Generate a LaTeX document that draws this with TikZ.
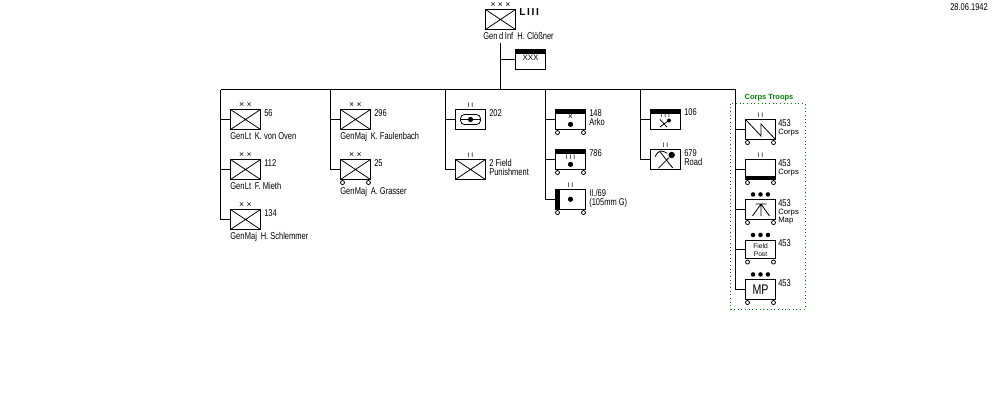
\documentclass[tikz,border=0pt]{standalone}
\usepackage{fontspec}
\setmainfont[FakeStretch=0.76]{Liberation Sans}
\newfontfamily\plainf{Liberation Sans}
\definecolor{troopgreen}{RGB}{0,128,0}
\tikzset{
  x=0.75pt, y=-0.75pt,
  unitbox/.style={draw=black, line width=0.75pt, fill=white, minimum width=22.5pt, minimum height=15pt, inner sep=0pt, outer sep=0pt},
  link/.style={draw=black, line width=0.75pt},
  sym/.style={draw=black, line width=0.6pt},
  lab/.style={font=\fontsize{7.4}{7}\selectfont, inner sep=0pt, anchor=north west, align=left},
  rank/.style={font=\plainf\fontsize{6.5}{6.5}\selectfont, inner sep=0pt, anchor=center},
  bars/.style={font=\plainf\fontsize{5}{5}\selectfont, inner sep=0pt, anchor=center},
  wheel/.style={draw=black, line width=0.6pt, fill=white, circle, minimum size=3pt, inner sep=0pt},
  dotmark/.style={fill=black, circle, minimum size=3.9pt, inner sep=0pt}
}
% unit frame: name, centre x, centre y
\newcommand{\frm}[3]{\node[unitbox] (#1) at (#2,#3) {};}
% infantry cross inside a frame
\newcommand{\crossed}[1]{\draw[sym] (#1.north west) -- (#1.south east) (#1.north east) -- (#1.south west);}
% wheels below a frame
\newcommand{\wheels}[1]{
  \node[wheel] (#1w1) at ([xshift=1.5pt,yshift=-2.3pt]#1.south west) {};
  \node[wheel] (#1w2) at ([xshift=-1.5pt,yshift=-2.3pt]#1.south east) {};}
% three rank dots above a frame
\newcommand{\threedots}[1]{
  \foreach \d in {-5.6,0,5.6} \fill ([xshift=\d pt,yshift=3.8pt]#1.north) circle (1.7pt);}
% heavy band along the top edge of a frame
\newcommand{\topband}[1]{\fill ([yshift=0.4pt]#1.north west) rectangle ([yshift=-3pt]#1.north east);}
% small line text for corps troop labels
\newcommand{\smallline}[1]{{\plainf\fontsize{5.8}{6}\selectfont #1}}
% officer rank prefixes
\newcommand{\gl}{Gen\hspace{0.4pt}Lt\ \,}
\newcommand{\gm}{Gen\hspace{0.4pt}Maj\ \,}
\begin{document}
\begin{tikzpicture}
\useasboundingbox (0,0) rectangle (1000,400);

% stem coordinates on the main bus
\coordinate (bl) at (220.5,89.5);
\coordinate (bm) at (500.5,89.5);
\coordinate (br) at (735.5,89.5);
\coordinate (t2) at (330.5,89.5);
\coordinate (t3) at (445.5,89.5);
\coordinate (t4) at (545.5,89.5);
\coordinate (t5) at (640.5,89.5);
\coordinate (cs) at (500.5,43);

% date stamp
\node[lab] (date) at (950,3) {28.06.1942};

% dotted corps troops frame
\draw[troopgreen, line width=0.75pt, dotted] (730.5,103.5) rectangle (805,309);
\node[font=\plainf\bfseries\fontsize{5.6}{6}\selectfont, text=troopgreen, inner sep=0pt] (ctl) at (769,97.3) {Corps Troops};

% corps headquarters
\frm{hq}{500.5}{19.5}\crossed{hq}
\node[rank] (hqx) at (500.5,5.2) {×\ ×\ ×};
\node[font=\plainf\bfseries\fontsize{7.6}{7.6}\selectfont, inner sep=0pt, anchor=west] (hql) at (519,12.5) {L\,I\,I\,I};
\node[lab, anchor=center] (hqn) at (518.5,36) {Gen\,d\,Inf\ \ H. Clößner};
\frm{ko}{530.5}{59.5}\topband{ko}
\node[font=\plainf\fontsize{6}{6}\selectfont, inner sep=0pt] (kox) at (530.5,57.5) {XXX};
\draw[link] (cs) -- (bm);
\draw[link] (bm |- ko.west) -- (ko.west);
\draw[link] (bl) -- (br);

% first column: infantry divisions
\frm{d56}{245.5}{119.5}\crossed{d56}
\frm{d112}{245.5}{169.5}\crossed{d112}
\frm{d134}{245.5}{219.5}\crossed{d134}
\foreach \n/\yy in {a/105.5,b/155.5,c/205.5} \node[rank] (x1\n) at (245.5,\yy) {×\ ×};
\draw[link] (bl) |- (d134.west);
\draw[link] (bl |- d56.west) -- (d56.west);
\draw[link] (bl |- d112.west) -- (d112.west);
\node[lab] (n56) at (264,109.2) {56};
\node[lab] (n112) at (264,159.2) {112};
\node[lab] (n134) at (264,209.2) {134};
\node[lab] (g56) at (230,132.2) {\gl K. von Oven};
\node[lab] (g112) at (230,182.2) {\gl F. Mieth};
\node[lab] (g134) at (230,232.2) {\gm H. Schlemmer};

% second column
\frm{d296}{355.5}{119.5}\crossed{d296}
\frm{d25}{355.5}{169.5}\crossed{d25}\wheels{d25}
\foreach \n/\yy in {a/105.5,b/155.5} \node[rank] (x2\n) at (355.5,\yy) {×\ ×};
\draw[link] (t2) |- (d25.west);
\draw[link] (t2 |- d296.west) -- (d296.west);
\node[lab] (n296) at (374,109.2) {296};
\node[lab] (n25) at (374,159.2) {25};
\node[lab] (g296) at (340,132.2) {\gm K. Faulenbach};
\node[lab] (g25) at (340,187.5) {\gm A. Grasser};

% third column
\frm{b202}{470.5}{119.5}
\draw[sym, rounded corners=3pt] (460.5,114.5) rectangle (480.5,124.5);
\draw[sym] (460.5,119.5) -- (480.5,119.5);
\node[dotmark] (b202d) at (470.5,119.5) {};
\frm{b2f}{470.5}{169.5}\crossed{b2f}
\foreach \n/\yy in {a/105.5,b/155.5} \node[bars] (x3\n) at (470.5,\yy) {I I};
\draw[link] (t3) |- (b2f.west);
\draw[link] (t3 |- b202.west) -- (b202.west);
\node[lab] (n202) at (489,109.2) {202};
\node[lab] (n2f) at (489,159.2) {2 Field\\Punishment};

% fourth column: artillery
\frm{a148}{570.5}{119.5}\topband{a148}\wheels{a148}
\node[rank] (a148x) at (570.5,117.5) {×};
\node[dotmark] (a148d) at (570.5,124.4) {};
\frm{a786}{570.5}{159.5}\topband{a786}\wheels{a786}
\node[bars] (a786x) at (570.5,157.5) {I I I};
\node[dotmark] (a786d) at (570.5,164.4) {};
\frm{a69}{570.5}{199.5}\wheels{a69}
\fill (a69.north west) rectangle ([xshift=3pt]a69.south west);
\node[bars] (a69x) at (570.5,185.5) {I I};
\node[dotmark] (a69d) at (570.5,199.3) {};
\draw[link] (t4) |- (a69.west);
\draw[link] (t4 |- a148.west) -- (a148.west);
\draw[link] (t4 |- a786.west) -- (a786.west);
\node[lab] (n148) at (589,109.2) {148\\Arko};
\node[lab] (n786) at (589,149.2) {786};
\node[lab] (n69) at (589,189.2) {II./69\\(105mm G)};

% fifth column: engineers
\frm{e106}{665.5}{119.5}\topband{e106}
\node[bars] (e106x) at (665.3,115.5) {I I I};
\draw[sym] (660,119.5) -- (667,127);
\draw[sym] (668,121) -- (660,127);
\fill (669,120.5) circle (1.5pt);
\frm{e679}{665.5}{159.5}
\node[bars] (e679x) at (665.5,145.5) {I I};
\draw[sym] (655,156.7) .. controls (657,153) and (659,151) .. (660.7,151) .. controls (663,151) and (665,152) .. (667.3,153.3);
\draw[sym] (660,151.7) -- (672.7,168);
\draw[sym] (669,157.7) -- (658.3,168.3);
\fill (671.7,155) circle (2.4pt);
\draw[link] (t5) |- (e679.west);
\draw[link] (t5 |- e106.west) -- (e106.west);
\node[lab] (n106) at (684,108.7) {106};
\node[lab] (n679) at (684,149.2) {679\\Road};

% sixth column: corps troops
\frm{s1}{760.5}{129.5}\wheels{s1}
\node[bars] (s1x) at (760.5,115.5) {I I};
\draw[sym] (745.5,119.5) -- (761,136) -- (761,124) -- (775.5,139.5);
\frm{s2}{760.5}{169.5}\wheels{s2}
\node[bars] (s2x) at (760.5,155.5) {I I};
\fill ([yshift=3pt]s2.south west) rectangle ([yshift=-0.4pt]s2.south east);
\frm{s3}{760.5}{209.5}\wheels{s3}\threedots{s3}
\draw[sym] (755.5,204) -- (766.5,204) (761,204) -- (752.5,216) (761,204) -- (761,216) (761,204) -- (769.5,216);
\node[unitbox, minimum height=14.2pt] (s4) at (760.5,249.5) {};\wheels{s4}\threedots{s4}
\node[font=\plainf\fontsize{5}{6}\selectfont, inner sep=0pt, align=center] (s4t) at (760.5,250) {Field\\Post};
\frm{s5}{760.5}{289.5}\wheels{s5}\threedots{s5}
\node[font=\fontsize{10.5}{10.5}\selectfont, inner sep=0pt] (s5t) at (760.5,289.5) {MP};
\draw[link] (br) |- (s5.west);
\foreach \f in {s1,s2,s3,s4} \draw[link] (br |- \f.west) -- (\f.west);
\node[lab] (l1) at (778,119.2) {453\\[-0.8pt]\smallline{Corps}};
\node[lab] (l2) at (778,159.2) {453\\[-0.8pt]\smallline{Corps}};
\node[lab] (l3) at (778,199.2) {453\\[-0.8pt]\smallline{Corps}\\[-1.2pt]\smallline{Map}};
\node[lab] (l4) at (778,239.2) {453};
\node[lab] (l5) at (778,279.2) {453};
\end{tikzpicture}
\end{document}
